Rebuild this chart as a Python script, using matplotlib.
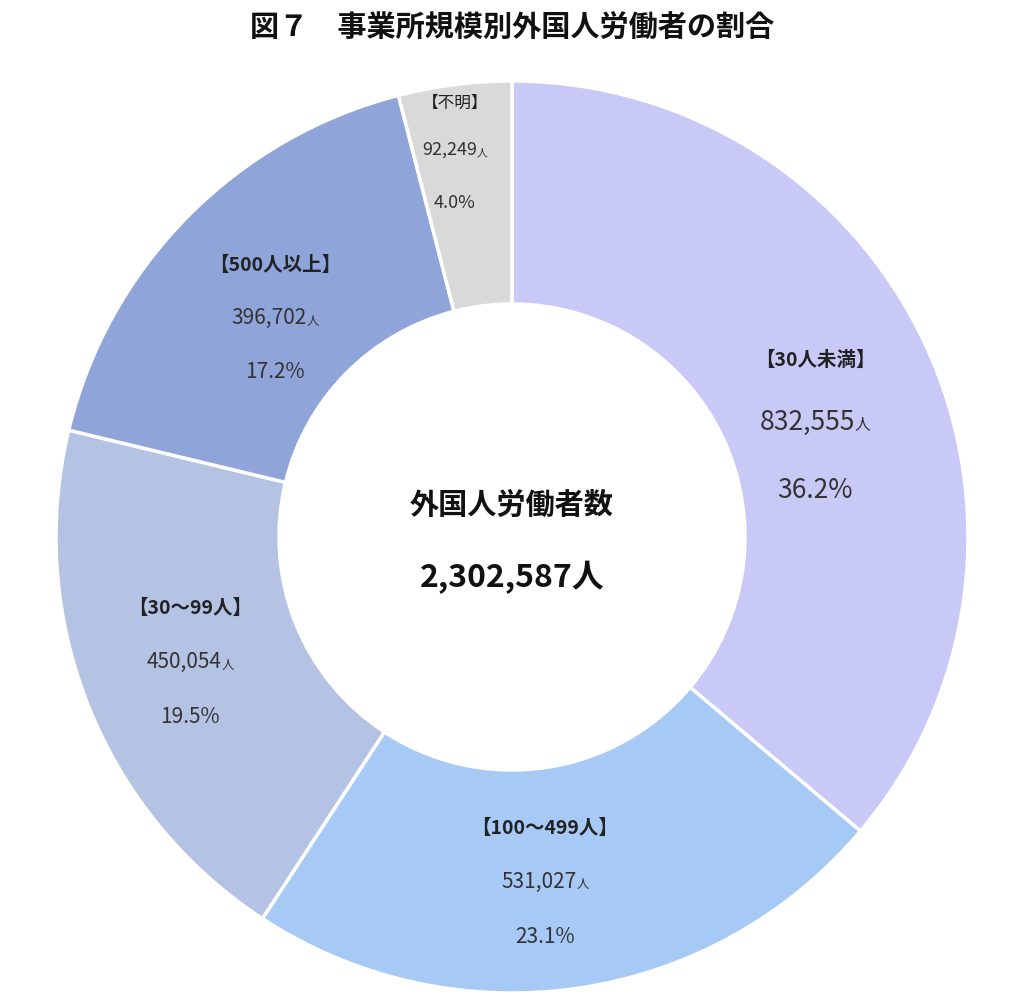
import matplotlib
matplotlib.use("Agg")
import matplotlib.pyplot as plt

categories = ["【30人未満】", "【100～499人】", "【30～99人】", "【500人以上】", "【不明】"]
counts = [832555, 531027, 450054, 396702, 92249]
shares = [36.2, 23.1, 19.5, 17.2, 4.0]
total = 2302587
colors = ["#C9C9F8", "#A6C9F5", "#B4C3E3", "#8FA5D9", "#D9D9D9"]

# label anchor positions (image pixels) and font sizes
label_pos = [(815, 360), (545, 828), (190, 608), (275, 265), (455, 103)]
val_sizes = [19, 15, 15, 15, 13]
head_sizes = [14, 14, 14, 14, 12]
head_bold = [True, True, True, True, False]
gaps = [[0, 62, 130], [0, 54, 109], [0, 54, 109], [0, 53, 107], [0, 47, 100]]

plt.rcParams["font.family"] = "Noto Sans CJK JP"
W, H = 1024, 1004
cx, cy, R = 512, 538, 456
fig = plt.figure(figsize=(W / 100, H / 100), dpi=100)
ax = fig.add_axes([0, 0, 1, 1])

ax.pie(counts, colors=colors, startangle=90, counterclock=False, radius=R,
       wedgeprops=dict(width=R - 233, edgecolor="white", linewidth=2.5))
ax.set_xlim(-cx, W - cx)
ax.set_ylim(-(H - cy), cy)
ax.set_aspect("equal")
ax.axis("off")

def P(x, y):
    return x - cx, cy - y

fig.canvas.draw()
r = fig.canvas.get_renderer()
for i, cat in enumerate(categories):
    x, y = label_pos[i]
    g = gaps[i]
    ax.text(*P(x, y + g[0]), cat, ha="center", va="center", fontsize=head_sizes[i],
            fontweight="bold" if head_bold[i] else "normal", color="#222222")
    num = f"{counts[i]:,}"
    t1 = ax.text(*P(x, y + g[1]), num, ha="center", va="center",
                 fontsize=val_sizes[i], color="#333333")
    t2 = ax.text(*P(x, y + g[1] + 3), "人", ha="left", va="center",
                 fontsize=val_sizes[i] * 0.6, color="#333333")
    w1 = t1.get_window_extent(r).width
    w2 = t2.get_window_extent(r).width
    left = x - (w1 + w2) / 2
    t1.set_position(P(left + w1 / 2, y + g[1]))
    t2.set_position(P(left + w1, y + g[1] + 3))
    ax.text(*P(x, y + g[2]), f"{shares[i]:.1f}%", ha="center", va="center",
            fontsize=val_sizes[i], color="#333333")

ax.text(*P(512, 505), "外国人労働者数", ha="center", va="center", fontsize=21,
        fontweight="bold", color="#111111")
ax.text(*P(512, 578), f"{total:,}人", ha="center", va="center", fontsize=23,
        fontweight="bold", color="#111111")
ax.text(*P(512, 28), "図７　事業所規模別外国人労働者の割合", ha="center", va="center",
        fontsize=21, fontweight="bold", color="#111111")

fig.savefig("out.png", dpi=100)
